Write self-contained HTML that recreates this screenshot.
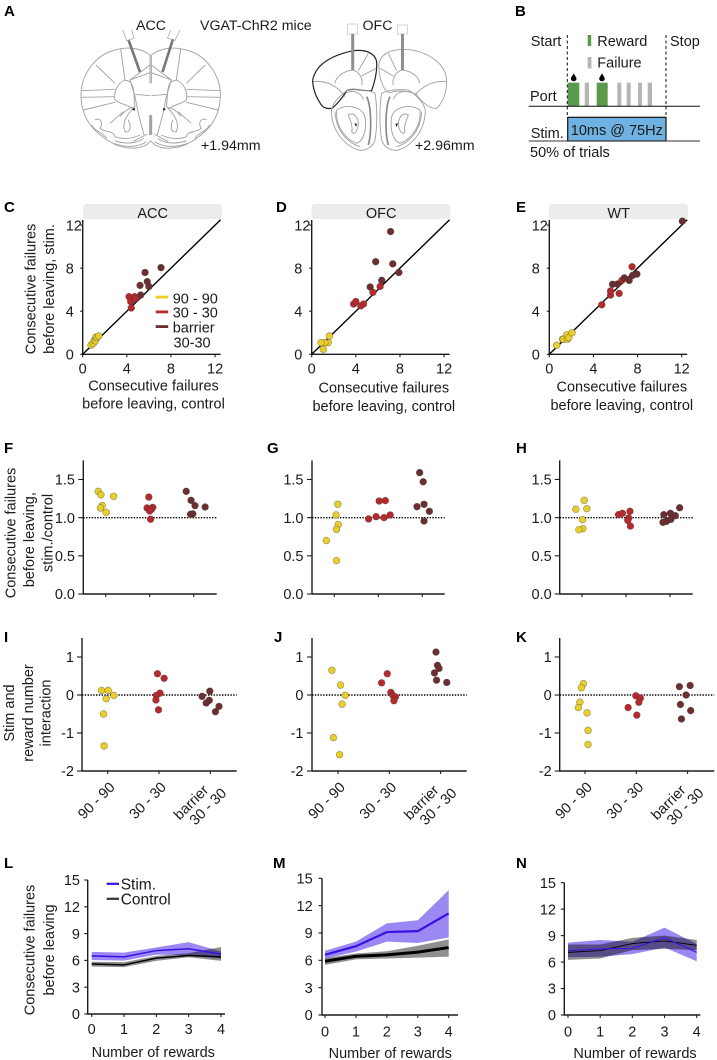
<!DOCTYPE html>
<html lang="en">
<head>
<meta charset="utf-8">
<title>Optogenetic stimulation figure</title>
<style>
html,body{margin:0;padding:0;background:#fff;}
svg{display:block;font-family:"Liberation Sans",Arial,sans-serif;fill:#1a1a1a;}
text{font-size:14.5px;}
.pl{font-weight:bold;font-size:15px;fill:#000;}
.brain path{fill:none;stroke:#a2a2a2;stroke-width:2.8;}
.band{mix-blend-mode:multiply;}
</style>
</head>
<body>
<svg id="fig" width="717" height="1060" viewBox="0 0 717 1060" xmlns="http://www.w3.org/2000/svg">
<rect width="717" height="1060" fill="#fff"/>

<g>
  <text class="pl" x="4" y="16">A</text>
  <text x="136" y="30" style="font-size:14.2px">ACC</text>
  <text x="200" y="30" style="font-size:14.2px">VGAT-ChR2 mice</text>
  <text x="362.5" y="30" style="font-size:14.2px">OFC</text>
  <text x="201" y="150" style="font-size:14.2px">+1.94mm</text>
  <text x="415" y="150" style="font-size:14.2px">+2.96mm</text>
  <g class="brain" transform="scale(.33333)">
    <g id="acc-hemi">
      <path d="M450,165 C420,142 380,140 345,150 C285,165 243,225 243,285 C243,345 270,390 330,425 C365,448 430,455 452,422"/>
      <path d="M362,147 L375,240 M288,195 L345,250 M243,272 L345,268 M245,292 L342,290 M250,330 L345,307 M450,165 L450,195 M450,195 L390,240 L405,290 L415,340 L432,405 M405,283 L450,287 M390,240 L450,218 M450,195 L450,250"/>
      <path d="M375,240 C350,250 340,280 345,300 C360,312 385,315 397,325 L405,320 C400,290 405,260 390,245 Z"/>
      <path d="M285,360 C300,350 312,370 300,385 C320,400 340,390 345,410 C370,420 400,415 420,405 M275,375 C285,395 305,395 320,415 M330,370 L370,335"/>
      <path d="M360,350 C375,330 395,320 400,325 C380,345 365,370 375,395 C390,400 395,380 385,360"/>
      <path d="M340,430 C380,445 420,440 440,425 M345,423 C380,433 410,430 430,416 M400,424 L442,402"/>
      <path d="M450,345 L450,405" style="stroke-width:5"/>
    </g>
    <use href="#acc-hemi" transform="translate(904,0) scale(-1,1)"/>
  </g>
  <path d="M128.5,40 L140,72" stroke="#777" stroke-width="2.6" fill="none"/>
  <path d="M173,39 L162.5,72" stroke="#777" stroke-width="2.6" fill="none"/>
  <path d="M122.7,30 L126.7,40.7 L134,38.3 L131.7,30" stroke="#aaa" stroke-width=".8" fill="none"/>
  <path d="M180,30 L175,40.5 L167.5,38 L171,30" stroke="#aaa" stroke-width=".8" fill="none"/>
  <g class="brain" transform="scale(.33333)">
    <path d="M938,245 C980,240 1015,260 1035,290 M1058,210 C1020,215 1005,240 1005,250 M1058,210 C1080,215 1090,240 1085,255 M1085,228 L1128,205 M1075,212 L1105,160"/>
    <path d="M1060,152 C1100,148 1125,160 1130,185 C1132,220 1122,250 1115,272 C1090,275 1060,262 1040,272 C1030,290 1010,315 995,325 C975,328 965,320 958,305 C945,285 938,260 938,240 C945,205 975,170 1060,152 Z" style="stroke:#222;stroke-width:3.6"/>
    <path d="M1137,190 C1145,160 1170,150 1210,148 C1280,150 1340,190 1340,245 C1340,270 1335,300 1310,325 C1290,328 1270,310 1250,285 C1240,275 1200,268 1170,278 C1150,275 1135,230 1137,190 Z"/>
    <path d="M1207,210 C1245,215 1260,240 1258,250 M1207,210 C1185,215 1175,240 1180,255 M1180,228 L1140,205 M1190,212 L1165,160 M1340,245 C1295,240 1265,262 1245,285"/>
    <g id="ofc-bulb">
      <path d="M1040,272 C1005,300 990,320 995,345 C1000,400 1040,440 1075,450 C1095,455 1120,440 1125,420 C1132,380 1132,320 1125,280 C1110,270 1060,265 1040,272 Z"/>
      <path d="M1005,335 C1008,395 1045,430 1080,440"/>
      <path d="M1010,330 C1040,310 1085,320 1095,350 C1100,380 1095,420 1070,430 C1040,420 1005,380 1010,330 Z"/>
      <path d="M1045,345 C1060,335 1075,350 1075,375 C1070,400 1060,405 1055,395 C1060,380 1050,360 1045,345 Z"/>
      <path d="M1100,290 C1115,320 1115,400 1105,435" style="stroke-width:5;stroke:#888"/>
      <path d="M1040,278 C1060,268 1085,280 1090,298"/>
    </g>
    <use href="#ofc-bulb" transform="translate(2270,0) scale(-1,1)"/>
  </g>
  <rect x="347.5" y="24" width="10" height="10" fill="#fff" stroke="#ccc" stroke-width=".8"/>
  <rect x="397.5" y="25" width="10" height="9" fill="#fff" stroke="#ccc" stroke-width=".8"/>
  <path d="M352.7,34 V70" stroke="#8e8e8e" stroke-width="3" fill="none"/>
  <path d="M402.5,34 V70" stroke="#8e8e8e" stroke-width="3" fill="none"/>
  <path d="M134.5,111 l-2.5,-2 l3,-1 Z M163.5,111 l2.5,-2 l-3,-1 Z M356,127 l-1.5,-4 l2.5,1 Z M396.5,127 l1.5,-4 l-2.5,1 Z" fill="#111"/>
</g>

<g>
  <text class="pl" x="515" y="16">B</text>
  <text x="530.7" y="46">Start</text>
  <text x="597.3" y="46">Reward</text>
  <text x="597.3" y="67.5">Failure</text>
  <text x="670" y="46">Stop</text>
  <text x="530" y="101">Port</text>
  <text x="530.7" y="138">Stim.</text>
  <text x="530" y="157">50% of trials</text>
  <rect x="587.7" y="35" width="3.5" height="11" fill="#5b9a4c"/>
  <rect x="587.7" y="57" width="3.7" height="11.5" fill="#b5b5b5"/>
  <rect x="567.7" y="82.7" width="11.6" height="23.3" fill="#5b9a4c"/>
  <rect x="596.7" y="82.7" width="11" height="23.3" fill="#5b9a4c"/>
  <rect x="584.7" y="82.7" width="4.3" height="23.3" fill="#b5b5b5"/>
  <rect x="617.3" y="82.7" width="4" height="23.3" fill="#b5b5b5"/>
  <rect x="626.7" y="82.7" width="4" height="23.3" fill="#b5b5b5"/>
  <rect x="638" y="82.7" width="4" height="23.3" fill="#b5b5b5"/>
  <rect x="647.7" y="82.7" width="4.3" height="23.3" fill="#b5b5b5"/>
  <path d="M573.7,73.5 C575.5,76.5 576.5,77.5 576.5,78.7 A2.8,2.6 0 0 1 570.9,78.7 C570.9,77.5 571.9,76.5 573.7,73.5 Z" fill="#000"/>
  <path d="M602,73.5 C603.8,76.5 604.8,77.5 604.8,78.7 A2.8,2.6 0 0 1 599.2,78.7 C599.2,77.5 600.2,76.5 602,73.5 Z" fill="#000"/>
  <rect x="567.7" y="117.3" width="98.3" height="23.7" fill="#6fb1e0" stroke="#111" stroke-width="1.2"/>
  <text x="616.8" y="135" text-anchor="middle">10ms @ 75Hz</text>
  <line x1="528.7" x2="700" y1="106.3" y2="106.3" stroke="#111" stroke-width="1"/>
  <line x1="528.7" x2="700" y1="141" y2="141" stroke="#333" stroke-width="1"/>
  <line x1="567.3" x2="567.3" y1="35" y2="117" stroke="#111" stroke-width="1" stroke-dasharray="3 2.5"/>
  <line x1="666" x2="666" y1="35" y2="117" stroke="#111" stroke-width="1" stroke-dasharray="3 2.5"/>
</g>

<g id="panel-c">
  <text class="pl" x="4" y="212">C</text>
  <text transform="translate(35.5,289) rotate(-90)" text-anchor="middle">Consecutive failures</text>
  <text transform="translate(54,289) rotate(-90)" text-anchor="middle">before leaving, stim.</text>
  <text x="153.5" y="390.5" text-anchor="middle">Consecutive failures</text>
  <text x="153.5" y="408.5" text-anchor="middle">before leaving, control</text>
  <rect x="155.7" y="295.7" width="12.5" height="2.8" fill="#e8cf2c"/>
  <rect x="155.7" y="310.5" width="12.5" height="2.8" fill="#b52a30"/>
  <rect x="155.7" y="325.2" width="12.5" height="2.8" fill="#6b2f33"/>
  <text x="172.7" y="303.5">90 - 90</text>
  <text x="172.7" y="317.5">30 - 30</text>
  <text x="172.7" y="332.5">barrier</text>
  <text x="173.5" y="347.5">30-30</text>
</g>
<g id="panel-d">
  <text class="pl" x="276" y="212">D</text>
  <text x="383.8" y="392.5" text-anchor="middle">Consecutive failures</text>
  <text x="383.8" y="411" text-anchor="middle">before leaving, control</text>
</g>
<g id="panel-e">
  <text class="pl" x="516" y="212">E</text>
  <text x="621.8" y="391.5" text-anchor="middle">Consecutive failures</text>
  <text x="621.8" y="410" text-anchor="middle">before leaving, control</text>
</g>

<g id="panel-f">
  <text class="pl" x="4" y="453">F</text>
  <text transform="translate(15.5,533) rotate(-90)" text-anchor="middle">Consecutive failures</text>
  <text transform="translate(34,539.7) rotate(-90)" text-anchor="middle">before leaving,</text>
  <text transform="translate(52.5,533) rotate(-90)" text-anchor="middle">stim./control</text>
</g>
<g id="panel-g">
  <text class="pl" x="267" y="453">G</text>
</g>
<g id="panel-h">
  <text class="pl" x="516" y="453">H</text>
</g>

<g id="panel-i">
  <text class="pl" x="4" y="642">I</text>
  <text transform="translate(14,713) rotate(-90)" text-anchor="middle">Stim and</text>
  <text transform="translate(33,713) rotate(-90)" text-anchor="middle">reward number</text>
  <text transform="translate(50.5,713) rotate(-90)" text-anchor="middle">interaction</text>
</g>
<g id="panel-j">
  <text class="pl" x="274" y="642">J</text>
</g>
<g id="panel-k">
  <text class="pl" x="516" y="642">K</text>
</g>

<g id="panel-l">
  <text class="pl" x="4" y="868">L</text>
  <text transform="translate(34.5,950) rotate(-90)" text-anchor="middle">Consecutive failures</text>
  <text transform="translate(54,950) rotate(-90)" text-anchor="middle">before leaving</text>
  <text x="153.3" y="1057" text-anchor="middle">Number of rewards</text>
</g>
<g id="panel-m">
  <text class="pl" x="273" y="868">M</text>
  <text x="390.3" y="1058" text-anchor="middle">Number of rewards</text>
</g>
<g id="panel-n">
  <text class="pl" x="516" y="868">N</text>
  <text x="635" y="1058" text-anchor="middle">Number of rewards</text>
</g>
<g id="line-legend">
  <rect x="106.7" y="882.7" width="12.3" height="2.2" fill="#3a10e5"/>
  <rect x="106.7" y="897.7" width="12.3" height="2.2" fill="#333"/>
  <text x="120.7" y="889.5" style="font-size:15.5px">Stim.</text>
  <text x="120.7" y="904.5" style="font-size:15.5px">Control</text>
</g>
</svg>

<script>
// ----- scatter data: failures before leaving, control (x) vs stim (y)
const scatterTicks = [0, 4, 8, 12];
const cYellowX = [0.75, 0.95, 1.05, 1.15, 1.2, 1.3, 1.45];
const cYellowY = [0.85, 1.0, 1.3, 1.25, 1.6, 1.55, 1.7];
const cRedX = [4.2, 4.35, 4.4, 4.7, 4.75];
const cRedY = [5.35, 4.9, 4.3, 5.35, 5.15];
const cBarrierX = [7.1, 5.65, 5.85, 6.0, 5.2, 5.25];
const cBarrierY = [8.05, 7.6, 6.75, 6.3, 6.4, 5.5];
const dYellowX = [1.6, 1.5, 1.2, 0.85, 1.05];
const dYellowY = [1.7, 1.08, 1.08, 1.08, 0.46];
const dRedX = [3.8, 4.0, 4.45, 4.7, 5.55, 6.2];
const dRedY = [4.67, 4.9, 4.5, 4.67, 5.75, 6.3];
const dBarrierX = [7.15, 5.8, 7.35, 7.9, 6.35, 5.3];
const dBarrierY = [11.4, 8.6, 8.4, 7.6, 6.87, 6.25];
const eYellowX = [0.67, 1.2, 1.27, 1.58, 1.64, 1.76, 2.06];
const eYellowY = [0.84, 1.4, 1.4, 1.8, 1.4, 1.55, 2.0];
const eRedX = [4.76, 5.55, 5.55, 6.33, 6.58, 7.5];
const eRedY = [4.6, 5.5, 5.88, 5.66, 6.87, 8.13];
const eBarrierX = [5.73, 6.18, 6.8, 7.24, 7.55, 7.94, 12.06];
const eBarrierY = [6.5, 6.53, 7.1, 6.87, 7.33, 7.45, 12.37];

// ----- ratio strip data: category jitter and stim/control ratio
const ratioTicks = [0, 0.5, 1, 1.5];
const ratioTickLabels = ["0.0", "0.5", "1.0", "1.5"];
const fYellowJitter = [-0.17, -0.11, 0.18, -0.08, -0.12, 0.01];
const fYellowRatio = [1.345, 1.30, 1.28, 1.157, 1.127, 1.07];
const fRedJitter = [-0.02, -0.06, 0.07, 0.04, 0, 0.02];
const fRedRatio = [1.27, 1.127, 1.135, 1.11, 1.087, 0.98];
const fBarrierJitter = [-0.17, -0.06, 0.03, 0.26, -0.02, -0.07];
const fBarrierRatio = [1.345, 1.227, 1.157, 1.14, 1.05, 1.045];
const gYellowJitter = [0.08, 0.04, 0.09, 0.05, -0.18, 0.05];
const gYellowRatio = [1.175, 1.035, 0.91, 0.847, 0.70, 0.437];
const gRedJitter = [-0.22, -0.05, 0.02, 0.16, 0.13, 0.27];
const gRedRatio = [0.983, 1.013, 1.218, 1.223, 1.0, 1.035];
const gBarrierJitter = [-0.06, 0.02, 0.04, -0.12, 0.16, 0.04];
const gBarrierRatio = [1.59, 1.47, 1.175, 1.144, 1.083, 0.956];
const hYellowJitter = [0.05, -0.14, 0.11, 0.01, 0.02, -0.07];
const hYellowRatio = [1.227, 1.11, 1.118, 0.974, 0.856, 0.843];
const hRedJitter = [-0.17, -0.08, 0.09, 0.06, 0.04, 0.1];
const hRedRatio = [1.04, 1.057, 1.083, 0.996, 0.965, 0.89];
const hBarrierJitter = [-0.14, 0.22, 0.01, 0.12, 0.02, -0.08, -0.16];
const hBarrierRatio = [1.04, 1.13, 1.057, 1.026, 0.978, 0.952, 0.939];

// ----- interaction strip data
const interactionTicks = [-2, -1, 0, 1];
const categoryLabels = ["90 - 90", "30 - 30", "barrier", "30 - 30"];
const iYellowJitter = [-0.12, 0.01, 0.12, -0.03, -0.08, -0.07];
const iYellowValue = [0.12, 0.12, -0.01, -0.1, -0.5, -1.34];
const iRedJitter = [-0.03, 0.1, 0.02, -0.05, -0.06, -0.01];
const iRedValue = [0.56, 0.44, 0.05, -0.01, -0.13, -0.39];
const iBarrierJitter = [-0.01, -0.16, -0.02, -0.08, 0.17, 0.1];
const iBarrierValue = [0.1, -0.035, -0.14, -0.21, -0.3, -0.44];
const jYellowJitter = [-0.12, 0.05, 0.14, 0.08, -0.09, 0.03];
const jYellowValue = [0.65, 0.26, -0.01, -0.24, -1.12, -1.57];
const jRedJitter = [-0.04, -0.15, 0.03, 0.07, 0.12, 0.09];
const jRedValue = [0.56, 0.32, 0.07, -0.01, -0.05, -0.15];
const jBarrierJitter = [-0.09, -0.06, -0.03, -0.12, -0.08, 0.12];
const jBarrierValue = [1.13, 0.78, 0.7, 0.58, 0.39, 0.33];
const kYellowJitter = [-0.03, -0.07, -0.1, -0.13, 0.04, 0.06, 0.06];
const kYellowValue = [0.3, 0.19, -0.19, -0.33, -0.47, -0.93, -1.3];
const kRedJitter = [-0.01, 0.08, 0.05, -0.16, 0.01];
const kRedValue = [-0.02, -0.08, -0.19, -0.33, -0.53];
const kBarrierJitter = [-0.16, 0.05, -0.03, -0.14, 0.06, -0.12];
const kBarrierValue = [0.22, 0.25, 0, -0.25, -0.41, -0.63];

// ----- line panels: failures by number of rewards
const rewardCounts = [0, 1, 2, 3, 4];
const failureTicks = [0, 3, 6, 9, 12, 15];
const lStimMean = [6.5, 6.4, 7.1, 7.3, 6.7];
const lStimUpper = [6.95, 6.87, 7.45, 8.05, 7.0];
const lStimLower = [6.05, 5.97, 6.65, 6.57, 6.2];
const lControlMean = [5.6, 5.5, 6.25, 6.55, 6.4];
const lControlUpper = [5.85, 5.8, 6.5, 6.8, 7.5];
const lControlLower = [5.3, 5.25, 5.95, 6.35, 5.95];
const mStimMean = [6.6, 7.55, 9.1, 9.2, 11.15];
const mStimUpper = [7.05, 8.05, 10.05, 10.4, 13.7];
const mStimLower = [6.2, 6.95, 8.05, 7.9, 8.5];
const mControlMean = [5.9, 6.45, 6.6, 6.9, 7.4];
const mControlUpper = [6.25, 6.75, 7.0, 7.6, 8.3];
const mControlLower = [5.5, 6.1, 6.2, 6.3, 6.4];
const nStimMean = [7.3, 7.5, 7.55, 8.75, 7.1];
const nStimUpper = [8.2, 8.5, 8.3, 9.9, 8.05];
const nStimLower = [6.55, 6.6, 6.9, 7.65, 6.1];
const nControlMean = [7.1, 7.3, 8.1, 8.4, 7.9];
const nControlUpper = [8.0, 8.0, 8.75, 9.0, 8.5];
const nControlLower = [6.25, 6.4, 7.35, 7.5, 7.35];

const NS = "http://www.w3.org/2000/svg";
const COLORS = { yellow: "#e8cf2c", red: "#b52a30", barrier: "#6b2f33" };
const AXIS = "#1c1c1c";

function make(parent, tag, attrs, txt) {
  const e = document.createElementNS(NS, tag);
  for (const k in attrs) e.setAttribute(k, attrs[k]);
  if (txt !== undefined) e.textContent = txt;
  parent.appendChild(e);
  return e;
}
function linear(d0, d1, r0, r1) {
  return v => r0 + (v - d0) * (r1 - r0) / (d1 - d0);
}
function axisLine(g, x1, y1, x2, y2, w) {
  const line = make(g, "line", { x1, y1, x2, y2, stroke: AXIS, "stroke-width": w || 1.4 });
  
  
}
function tickMark(g, x1, y1, x2, y2) {
  const t = make(g, "line", { x1, y1, x2, y2, stroke: AXIS, "stroke-width": 1.1 });
  
  
}
function tickText(g, x, y, anchor, s) {
  const t = make(g, "text", { x, y, "text-anchor": anchor }, s);
  
  
}
function drawDots(g, xs, ys, color, xf, yf) {
  xs.forEach((xv, i) => {
    const c = make(g, "circle", { cx: xf(xv), cy: yf(ys[i]), r: 3.4, fill: color, stroke: "rgba(60,50,40,.5)", "stroke-width": .6 });
    
    
  });
}

function scatterPanel(id, strip, x0, labelX, title, series) {
  const g = document.getElementById(id);
  const xf = linear(0, 12.5, x0, x0 + 137.9);
  const yf = linear(0, 12.5, 354.3, 219.7);
  const s = make(g, "rect", { x: strip, y: 204, width: 139, height: 15, rx: 3.5, fill: "#ececec" });
  
  
  const st = make(g, "text", { x: strip + 69.7, y: 217.8, "text-anchor": "middle" }, title);
  
  
  axisLine(g, xf(0), 220, xf(0), yf(0) + .6);
  axisLine(g, xf(0), yf(0), xf(12.5), yf(0));
  scatterTicks.forEach(v => {
    tickMark(g, xf(v), yf(0), xf(v), yf(0) + 3);
    tickMark(g, xf(0), yf(v), xf(0) - 2.5, yf(v));
    tickText(g, xf(v), 373.5, "middle", String(v));
    tickText(g, labelX, yf(v) + 5.2, "start", String(v));
  });
  const diag = make(g, "line", { x1: xf(0), y1: yf(0), x2: xf(12.5), y2: yf(12.5), stroke: "#000", "stroke-width": 1.4 });
  
  
  series.forEach(([xs, ys, c]) => drawDots(g, xs, ys, c, xf, yf));
}

function stripPanel(id, cfg, series) {
  const g = document.getElementById(id);
  const yf = linear(cfg.d0, cfg.d1, cfg.y0, cfg.y1);
  const catX = linear(0, 1, cfg.c0, cfg.c0 + cfg.step);
  axisLine(g, cfg.axis, cfg.y1, cfg.axis, cfg.y0 + .6);
  axisLine(g, cfg.axis, cfg.y0, cfg.end, cfg.y0);
  cfg.ticks.forEach((v, i) => {
    tickMark(g, cfg.axis, yf(v), cfg.axis - 5, yf(v));
    tickText(g, cfg.labelRight, yf(v) + 5.2, "end", cfg.labels ? cfg.labels[i] : String(v));
  });
  [0, 1, 2].forEach(i => tickMark(g, catX(i), cfg.y0, catX(i), cfg.y0 + 3));
  const ref = make(g, "line", { x1: cfg.axis, x2: cfg.end, y1: yf(cfg.ref), y2: yf(cfg.ref), stroke: "#000", "stroke-width": 1.4, "stroke-dasharray": "1.4 1.4" });
  
  
  series.forEach(([js, ys, c], k) => drawDots(g, js.map(j => k + j), ys, c, catX, yf));
  if (cfg.rotated) {
    const place = (s, x, y) => {
      const t = make(g, "text", { transform: `translate(${x},${y}) rotate(-45)`, "text-anchor": "end" }, s);
      
      
    };
    place(categoryLabels[0], catX(0) + 8, 788);
    place(categoryLabels[1], catX(1) + 8, 788);
    place(categoryLabels[2], catX(2) - 1, 791);
    place(categoryLabels[3], catX(2) + 17, 794);
  }
}

function linePanel(id, cfg, data) {
  const g = document.getElementById(id);
  const xf = linear(0, 4, cfg.x0, cfg.x4);
  const yf = linear(0, 15, cfg.y0, cfg.y15);
  const bandPath = (up, lo) =>
    "M" + rewardCounts.map((r, i) => xf(r) + "," + yf(up[i])).join("L") +
    "L" + rewardCounts.slice().reverse().map(r => xf(r) + "," + yf(lo[r])).join("L") + "Z";
  const meanPath = m => "M" + rewardCounts.map((r, i) => xf(r) + "," + yf(m[i])).join("L");

  const b1 = make(g, "path", { class: "band", d: bandPath(data.su, data.sl), fill: "#9b88f3" });
  
  
  const b2 = make(g, "path", { class: "band", d: bandPath(data.cu, data.cl), fill: "#8f8f8f" });
  
  
  const l2 = make(g, "path", { d: meanPath(data.cm), fill: "none", stroke: "#000", "stroke-width": cfg.cw });
  
  
  const l1 = make(g, "path", { d: meanPath(data.sm), fill: "none", stroke: "#3a10e5", "stroke-width": cfg.sw });
  
  

  axisLine(g, cfg.axis, cfg.y15, cfg.axis, cfg.y0 + .6);
  axisLine(g, cfg.axis, cfg.y0, cfg.end, cfg.y0);
  failureTicks.forEach(v => {
    tickMark(g, cfg.axis, yf(v), cfg.axis - 3.5, yf(v));
    tickText(g, cfg.labelRight, yf(v) + 5.2, "end", String(v));
  });
  rewardCounts.forEach(r => {
    tickMark(g, xf(r), cfg.y0, xf(r), cfg.y0 + 3);
    tickText(g, xf(r), cfg.tickY, "middle", String(r));
  });
}

scatterPanel("panel-c", 83, 82.7, 65.7, "ACC", [[cYellowX, cYellowY, COLORS.yellow], [cBarrierX, cBarrierY, COLORS.barrier], [cRedX, cRedY, COLORS.red]]);
scatterPanel("panel-d", 311.5, 311.7, 294.3, "OFC", [[dYellowX, dYellowY, COLORS.yellow], [dBarrierX, dBarrierY, COLORS.barrier], [dRedX, dRedY, COLORS.red]]);
scatterPanel("panel-e", 549, 549.3, 531.7, "WT", [[eYellowX, eYellowY, COLORS.yellow], [eRedX, eRedY, COLORS.red], [eBarrierX, eBarrierY, COLORS.barrier]]);

const ratioCfg = { d0: 0, d1: 1.75, y0: 594, y1: 460.4, ticks: ratioTicks, labels: ratioTickLabels, ref: 1, step: 44 };
stripPanel("panel-f", { ...ratioCfg, axis: 83.3, end: 216.7, c0: 105.7, labelRight: 75 }, [[fYellowJitter, fYellowRatio, COLORS.yellow], [fRedJitter, fRedRatio, COLORS.red], [fBarrierJitter, fBarrierRatio, COLORS.barrier]]);
stripPanel("panel-g", { ...ratioCfg, axis: 312, end: 444.7, c0: 334.3, labelRight: 303.5 }, [[gYellowJitter, gYellowRatio, COLORS.yellow], [gRedJitter, gRedRatio, COLORS.red], [gBarrierJitter, gBarrierRatio, COLORS.barrier]]);
stripPanel("panel-h", { ...ratioCfg, axis: 559.7, end: 692.7, c0: 582, labelRight: 551.7 }, [[hYellowJitter, hYellowRatio, COLORS.yellow], [hRedJitter, hRedRatio, COLORS.red], [hBarrierJitter, hBarrierRatio, COLORS.barrier]]);

const interCfg = { d0: -2, d1: 1.5, y0: 771, y1: 638, ticks: interactionTicks, ref: 0, step: 51.3, rotated: true };
stripPanel("panel-i", { ...interCfg, axis: 82, end: 236.7, c0: 107.7, labelRight: 74 }, [[iYellowJitter, iYellowValue, COLORS.yellow], [iRedJitter, iRedValue, COLORS.red], [iBarrierJitter, iBarrierValue, COLORS.barrier]]);
stripPanel("panel-j", { ...interCfg, axis: 312, end: 466.7, c0: 338, labelRight: 303.5 }, [[jYellowJitter, jYellowValue, COLORS.yellow], [jRedJitter, jRedValue, COLORS.red], [jBarrierJitter, jBarrierValue, COLORS.barrier]]);
stripPanel("panel-k", { ...interCfg, axis: 559.7, end: 714.3, c0: 585, labelRight: 551.7 }, [[kYellowJitter, kYellowValue, COLORS.yellow], [kRedJitter, kRedValue, COLORS.red], [kBarrierJitter, kBarrierValue, COLORS.barrier]]);

linePanel("panel-l", { x0: 91.7, x4: 221, y0: 1014, y15: 880, axis: 87.7, end: 225, labelRight: 80, tickY: 1034, sw: 1.5, cw: 1.5 },
  { sm: lStimMean, su: lStimUpper, sl: lStimLower, cm: lControlMean, cu: lControlUpper, cl: lControlLower });
linePanel("panel-m", { x0: 325, x4: 448.7, y0: 1015, y15: 878.3, axis: 322, end: 458, labelRight: 312.7, tickY: 1036.5, sw: 2.2, cw: 3 },
  { sm: mStimMean, su: mStimUpper, sl: mStimLower, cm: mControlMean, cu: mControlUpper, cl: mControlLower });
linePanel("panel-n", { x0: 568, x4: 696.7, y0: 1015, y15: 882.7, axis: 564.3, end: 700.3, labelRight: 556, tickY: 1036.5, sw: 1, cw: .9 },
  { sm: nStimMean, su: nStimUpper, sl: nStimLower, cm: nControlMean, cu: nControlUpper, cl: nControlLower });
</script>
</body>
</html>
